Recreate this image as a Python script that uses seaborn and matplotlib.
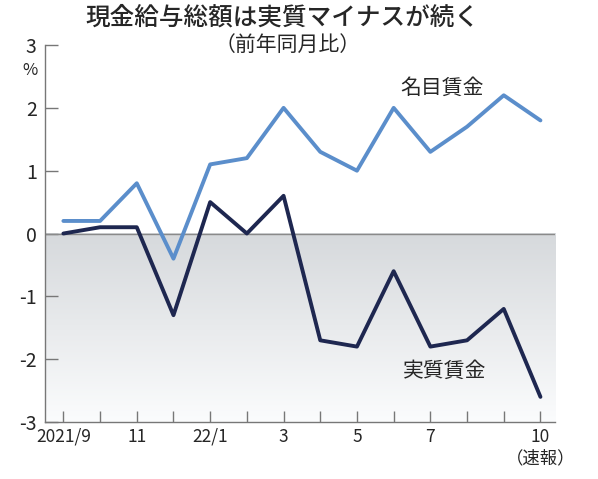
import numpy as np
import pandas as pd
import matplotlib
matplotlib.use("Agg")
import matplotlib.pyplot as plt
import seaborn as sns

months = ["2021/9", "10", "11", "12", "22/1", "2", "3", "4", "5", "6", "7", "8", "9", "10"]
nominal = [0.2, 0.2, 0.8, -0.4, 1.1, 1.2, 2.0, 1.3, 1.0, 2.0, 1.3, 1.7, 2.2, 1.8]
real = [0.0, 0.1, 0.1, -1.3, 0.5, 0.0, 0.6, -1.7, -1.8, -0.6, -1.8, -1.7, -1.2, -2.6]
tick_labels = ["2021/9", "", "11", "", "22/1", "", "3", "", "5", "", "7", "", "", "10\n（速報）"]
yticks = [-3, -2, -1, 0, 1, 2, 3]

sns.set_theme(style="white")
plt.rcParams['font.family'] = ['Noto Sans CJK JP', 'DejaVu Sans']

df = pd.DataFrame({"idx": range(len(months)), "名目賃金": nominal, "実質賃金": real})

fig = plt.figure(figsize=(5.98, 4.79), dpi=100)
ax = fig.add_axes([0.0753, 0.119, 0.853, 0.787])

# gradient shading below zero
grad = np.linspace(0, 1, 256).reshape(-1, 1)
cmap = matplotlib.colors.LinearSegmentedColormap.from_list("g", ["#d6d9dc", "#fbfcfd"])
ax.imshow(grad, aspect="auto", cmap=cmap, extent=[-0.5, 13.4, -3, 0], origin="upper", zorder=0)
ax.axhline(0, color="#8a8a8a", lw=1.0, zorder=1)

sns.lineplot(data=df, x="idx", y="名目賃金", ax=ax, color="#5b8ecb", lw=2.8, zorder=3)
sns.lineplot(data=df, x="idx", y="実質賃金", ax=ax, color="#1e2750", lw=2.8, zorder=4)

ax.set_xlim(-0.5, 13.4)
ax.set_ylim(-3, 3)
ax.set_xlabel("")
ax.set_ylabel("")
ax.set_yticks(yticks)
ax.set_yticklabels([str(v) for v in yticks], fontsize=14)
ax.set_xticks(range(len(months)))
ax.set_xticklabels(tick_labels, fontsize=12.5, linespacing=1.25)
ax.tick_params(axis="y", direction="in", length=9, width=1, color="#777777", pad=6, left=True)
ax.tick_params(axis="x", direction="in", length=8, width=1, color="#777777", pad=4, bottom=True)
for lbl in ax.get_xticklabels():
    lbl.set_verticalalignment("top")

for s in ["top", "right"]:
    ax.spines[s].set_visible(False)
for s in ["left", "bottom"]:
    ax.spines[s].set_color("#777777")
    ax.spines[s].set_linewidth(1.0)

ax.text(-0.9, 2.6, "%", ha="center", va="center", fontsize=12, transform=ax.transData, clip_on=False)
ax.text(10.33, 2.32, "名目賃金", fontsize=15, ha="center", va="center")
ax.text(10.4, -2.18, "実質賃金", fontsize=15, ha="center", va="center")

fig.text(0.473, 0.963, "現金給与総額は実質マイナスが続く", ha="center", va="center",
         fontsize=17.7, fontweight="medium")
fig.text(0.481, 0.906, "（前年同月比）", ha="center", va="center", fontsize=15)

fig.savefig("out.png", dpi=100, facecolor="white")
